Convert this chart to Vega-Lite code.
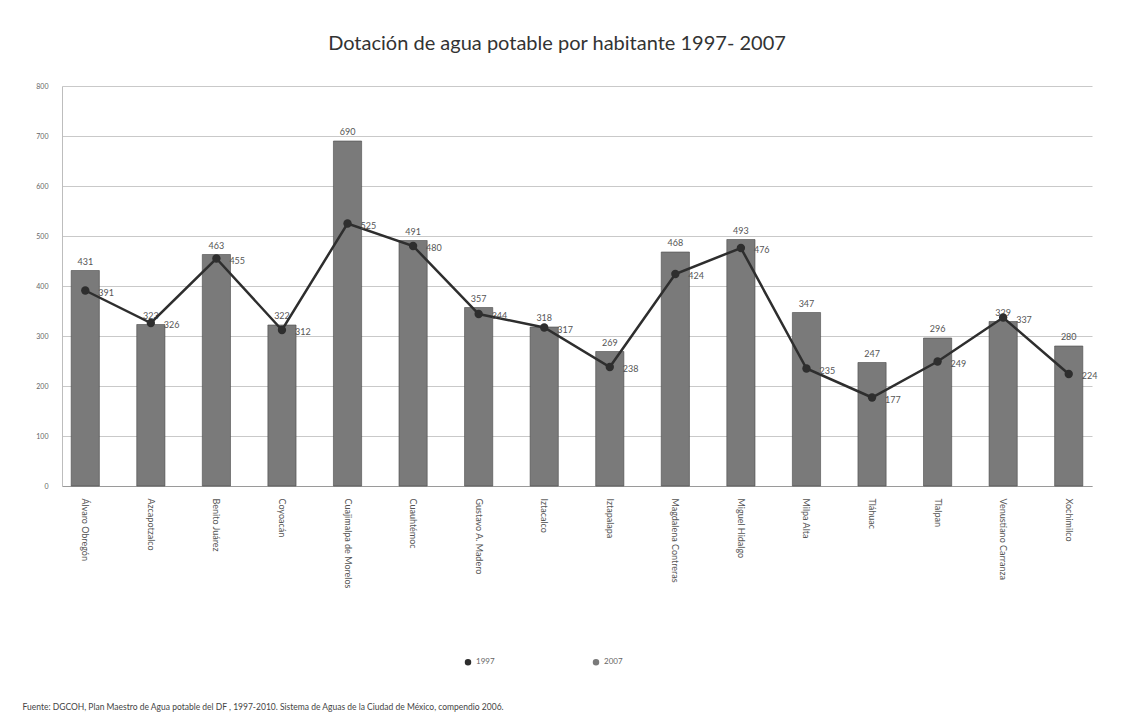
{
  "$schema": "https://vega.github.io/schema/vega-lite/v6.json",
  "width": 1030,
  "height": 400,
  "autosize": {"type": "none"},
  "padding": {"left": 62, "top": 86, "right": 33, "bottom": 233},
  "background": "white",
  "title": {
    "text": "Dotación de agua potable por habitante   1997- 2007",
    "font": "Lato",
    "fontSize": 20,
    "fontWeight": "normal",
    "color": "#333333",
    "offset": 28,
    "dx": -20,
    "anchor": "middle"
  },
  "config": {
    "view": {"stroke": null},
    "font": "Lato",
    "axis": {"labelFont": "Lato", "titleFont": "Lato"},
    "legend": {"labelFont": "Lato"}
  },
  "data": {
    "values": [
      {"delegacion": "Álvaro Obregón", "v1997": 391, "v2007": 431},
      {"delegacion": "Azcapotzalco", "v1997": 326, "v2007": 323},
      {"delegacion": "Benito Juárez", "v1997": 455, "v2007": 463},
      {"delegacion": "Coyoacán", "v1997": 312, "v2007": 322},
      {"delegacion": "Cuajimalpa de Morelos", "v1997": 525, "v2007": 690},
      {"delegacion": "Cuauhtémoc", "v1997": 480, "v2007": 491},
      {"delegacion": "Gustavo A. Madero", "v1997": 344, "v2007": 357},
      {"delegacion": "Iztacalco", "v1997": 317, "v2007": 318},
      {"delegacion": "Iztapalapa", "v1997": 238, "v2007": 269},
      {"delegacion": "Magdalena Contreras", "v1997": 424, "v2007": 468},
      {"delegacion": "Miguel Hidalgo", "v1997": 476, "v2007": 493},
      {"delegacion": "Milpa Alta", "v1997": 235, "v2007": 347},
      {"delegacion": "Tláhuac", "v1997": 177, "v2007": 247},
      {"delegacion": "Tlalpan", "v1997": 249, "v2007": 296},
      {"delegacion": "Venustiano Carranza", "v1997": 337, "v2007": 329},
      {"delegacion": "Xochimilco", "v1997": 224, "v2007": 280}
    ]
  },
  "encoding": {
    "x": {
      "field": "delegacion",
      "type": "nominal",
      "sort": null,
      "scale": {"paddingInner": 0.57, "paddingOuter": 0.14},
      "axis": {
        "labelAngle": 90,
        "labelFontSize": 9,
        "labelColor": "#555555",
        "labelPadding": 12,
        "ticks": false,
        "domainColor": "#9a9a9a",
        "title": "Fuente: DGCOH, Plan Maestro de  Agua potable del DF , 1997-2010.  Sistema de Aguas de la Ciudad de México, compendio 2006.",
        "titleFontSize": 8.5,
        "titleFontWeight": "normal",
        "titleColor": "#444444",
        "titleAnchor": "start",
        "titleAlign": "left",
        "titleX": -40,
        "titleY": 216
      }
    }
  },
  "layer": [
    {
      "mark": {"type": "bar", "stroke": "#4a4a4a", "strokeWidth": 0.6},
      "encoding": {
        "y": {
          "field": "v2007",
          "type": "quantitative",
          "scale": {"domain": [0, 800]},
          "axis": {
            "title": null,
            "values": [0, 100, 200, 300, 400, 500, 600, 700, 800],
            "labelFontSize": 7,
            "labelColor": "#666666",
            "labelPadding": 14,
            "ticks": false,
            "domain": true,
            "domainColor": "#bdbdbd",
            "gridColor": "#c9c9c9",
            "gridWidth": 1
          }
        },
        "color": {
          "datum": "2007",
          "type": "nominal",
          "scale": {"domain": ["1997", "2007"], "range": ["#2e2e2e", "#7a7a7a"]},
          "legend": {
            "title": null,
            "orient": "none",
            "direction": "horizontal",
            "legendX": 402,
            "legendY": 572,
            "symbolSize": 25,
            "labelFontSize": 8,
            "labelColor": "#666666",
            "columnPadding": 95,
            "encode": {
              "symbols": {
                "enter": {
                  "shape": {"signal": "datum.label == '1997' ? 'circle' : 'square'"}
                },
                "update": {
                  "shape": {"signal": "datum.label == '1997' ? 'circle' : 'square'"}
                }
              }
            }
          }
        }
      }
    },
    {
      "mark": {"type": "text", "dy": -9, "fontSize": 9, "color": "#555555"},
      "encoding": {
        "y": {"field": "v2007", "type": "quantitative"},
        "text": {"field": "v2007", "type": "quantitative"}
      }
    },
    {
      "mark": {"type": "line", "strokeWidth": 2.5, "color": "#2e2e2e"},
      "encoding": {
        "y": {"field": "v1997", "type": "quantitative"},
        "color": {"datum": "1997", "type": "nominal"}
      }
    },
    {
      "mark": {"type": "point", "filled": true, "size": 70, "opacity": 1},
      "encoding": {
        "y": {"field": "v1997", "type": "quantitative"},
        "color": {"datum": "1997", "type": "nominal"}
      }
    },
    {
      "mark": {"type": "text", "dx": 13, "dy": 2, "align": "left", "fontSize": 9, "color": "#555555"},
      "encoding": {
        "y": {"field": "v1997", "type": "quantitative"},
        "text": {"field": "v1997", "type": "quantitative"}
      }
    }
  ]
}
